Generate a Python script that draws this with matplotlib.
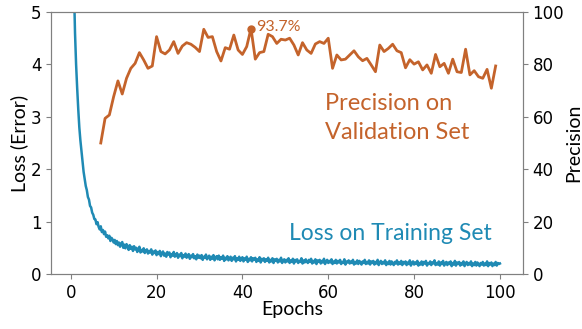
import numpy as np
import matplotlib
matplotlib.use("Agg")
import matplotlib.pyplot as plt

# ---- data ----
loss_epochs = np.arange(0.25, 100.01, 0.25)
loss_values = [
    8.0, 6.5, 5.5, 4.6, 4.0, 3.55, 3.15, 2.8, 2.55, 2.35,
    2.15, 1.95, 1.82, 1.68, 1.6, 1.47, 1.42, 1.3, 1.27, 1.17,
    1.13, 1.05, 1.04, 0.95, 0.99, 0.9, 0.85, 0.91, 0.8, 0.84,
    0.76, 0.81, 0.71, 0.74, 0.68, 0.73, 0.63, 0.69, 0.66, 0.6,
    0.65, 0.57, 0.63, 0.55, 0.6, 0.52, 0.58, 0.61, 0.5, 0.56,
    0.49, 0.57, 0.53, 0.46, 0.55, 0.48, 0.52, 0.44, 0.53, 0.47,
    0.5, 0.42, 0.48, 0.52, 0.41, 0.46, 0.43, 0.49, 0.4, 0.45,
    0.47, 0.39, 0.44, 0.41, 0.47, 0.37, 0.43, 0.4, 0.45, 0.36,
    0.42, 0.38, 0.44, 0.34, 0.4, 0.43, 0.35, 0.39, 0.33, 0.42,
    0.37, 0.41, 0.32, 0.38, 0.35, 0.42, 0.33, 0.36, 0.4, 0.31,
    0.37, 0.34, 0.4, 0.3, 0.36, 0.33, 0.39, 0.31, 0.35, 0.38,
    0.29, 0.35, 0.32, 0.38, 0.3, 0.34, 0.28, 0.37, 0.31, 0.35,
    0.3, 0.36, 0.27, 0.33, 0.31, 0.37, 0.28, 0.32, 0.35, 0.27,
    0.33, 0.29, 0.36, 0.26, 0.31, 0.34, 0.28, 0.35, 0.27, 0.32,
    0.29, 0.35, 0.25, 0.31, 0.28, 0.34, 0.26, 0.3, 0.33, 0.25,
    0.31, 0.28, 0.34, 0.24, 0.3, 0.27, 0.33, 0.25, 0.29, 0.32,
    0.24, 0.3, 0.27, 0.33, 0.23, 0.29, 0.26, 0.32, 0.24, 0.3,
    0.27, 0.31, 0.23, 0.28, 0.25, 0.32, 0.22, 0.29, 0.26, 0.3,
    0.23, 0.28, 0.25, 0.31, 0.22, 0.27, 0.24, 0.3, 0.21, 0.28,
    0.25, 0.29, 0.22, 0.27, 0.24, 0.31, 0.21, 0.26, 0.28, 0.22,
    0.27, 0.24, 0.3, 0.21, 0.26, 0.23, 0.29, 0.2, 0.27, 0.24,
    0.28, 0.21, 0.25, 0.23, 0.3, 0.2, 0.26, 0.22, 0.28, 0.24,
    0.21, 0.27, 0.23, 0.29, 0.2, 0.25, 0.22, 0.28, 0.19, 0.26,
    0.23, 0.27, 0.2, 0.25, 0.22, 0.29, 0.19, 0.24, 0.27, 0.21,
    0.25, 0.22, 0.28, 0.19, 0.24, 0.21, 0.27, 0.2, 0.25, 0.22,
    0.27, 0.19, 0.23, 0.21, 0.28, 0.18, 0.24, 0.22, 0.26, 0.2,
    0.24, 0.21, 0.27, 0.18, 0.23, 0.2, 0.26, 0.19, 0.25, 0.22,
    0.18, 0.24, 0.21, 0.27, 0.19, 0.23, 0.2, 0.26, 0.18, 0.24,
    0.21, 0.25, 0.18, 0.23, 0.2, 0.27, 0.17, 0.22, 0.25, 0.19,
    0.23, 0.2, 0.26, 0.17, 0.22, 0.19, 0.25, 0.18, 0.24, 0.21,
    0.17, 0.23, 0.2, 0.26, 0.18, 0.22, 0.19, 0.25, 0.17, 0.23,
    0.2, 0.24, 0.17, 0.22, 0.19, 0.26, 0.16, 0.21, 0.24, 0.18,
    0.22, 0.19, 0.25, 0.16, 0.21, 0.18, 0.24, 0.17, 0.23, 0.2,
    0.25, 0.16, 0.21, 0.19, 0.24, 0.17, 0.22, 0.2, 0.26, 0.17,
    0.21, 0.18, 0.24, 0.16, 0.22, 0.19, 0.25, 0.16, 0.2, 0.23,
    0.17, 0.22, 0.19, 0.24, 0.15, 0.21, 0.18, 0.25, 0.16, 0.22,
    0.19, 0.23, 0.16, 0.21, 0.18, 0.24, 0.15, 0.2, 0.23, 0.17,
    0.21, 0.18, 0.24, 0.15, 0.2, 0.17, 0.23, 0.16, 0.22, 0.19,
    0.15, 0.21, 0.18, 0.23, 0.16, 0.2, 0.17, 0.24, 0.15, 0.21,
    0.18, 0.22, 0.15, 0.2, 0.17, 0.23, 0.16, 0.21, 0.19, 0.2,
]

prec_epochs = np.arange(7, 100)
prec_values = [
    50.0, 59.4, 60.7, 67.7, 73.7, 68.7, 74.7, 78.5, 80.4, 84.5,
    81.7, 78.5, 79.4, 90.6, 84.9, 84.0, 85.5, 88.7, 84.2, 87.0,
    88.3, 87.7, 86.5, 84.9, 93.4, 90.3, 90.6, 84.9, 81.3, 86.4,
    85.8, 91.2, 85.5, 83.8, 86.8, 93.7, 82.0, 84.5, 84.9, 91.5,
    90.6, 88.0, 89.6, 89.3, 90.0, 87.4, 83.6, 88.3, 85.5, 84.2,
    87.8, 88.7, 88.0, 90.0, 78.5, 83.6, 81.7, 82.0, 83.6, 85.2,
    82.9, 81.4, 82.3, 79.8, 77.2, 87.4, 84.9, 86.1, 87.7, 85.2,
    84.5, 78.7, 81.8, 80.1, 81.0, 77.9, 79.8, 76.6, 83.8, 79.1,
    80.4, 76.6, 82.0, 77.2, 76.9, 85.8, 76.0, 77.6, 75.3, 74.7,
    78.1, 70.9, 79.4,
]

loss_ticks = [0, 1, 2, 3, 4, 5]
prec_ticks = [0, 20, 40, 60, 80, 100]
epoch_ticks = [0, 20, 40, 60, 80, 100]

BLUE = "#1F8AB4"
ORANGE = "#C4632B"
LABEL_FONT = "Lato"

fig = plt.figure(figsize=(5.82, 3.29), dpi=100)
ax = fig.add_axes([0.0876, 0.1672, 0.8105, 0.7963])
ax2 = ax.twinx()

ax.plot(loss_epochs, loss_values, color=BLUE, lw=1.8)
ax2.plot(prec_epochs, prec_values, color=ORANGE, lw=2.0)

imax = int(np.argmax(prec_values))
ax2.plot(prec_epochs[imax], prec_values[imax], "o", color=ORANGE, ms=5)
ax2.text(prec_epochs[imax] + 1.3, prec_values[imax] - 0.8,
         f"{prec_values[imax]:.1f}%", color=ORANGE, fontsize=11.5,
         family=LABEL_FONT, ha="left", va="baseline")

ax.set_xlim(-4.6, 105.3)
ax.set_ylim(0, 5)
ax2.set_ylim(0, 100)
ax.set_xticks(epoch_ticks)
ax.set_yticks(loss_ticks)
ax2.set_yticks(prec_ticks)

for a in (ax, ax2):
    for s in a.spines.values():
        s.set_color("#808080")
    a.tick_params(colors="#808080", labelcolor="black", labelsize=12)

ax.set_xlabel("Epochs", fontsize=14, family=LABEL_FONT)
ax.xaxis.set_label_coords(0.512, -0.105)
ax.set_ylabel("Loss (Error)", fontsize=14, family=LABEL_FONT, labelpad=2)
ax2.set_ylabel("Precision", fontsize=14, family=LABEL_FONT, labelpad=1)

ax.text(50.85, 0.64, "Loss on Training Set", color=BLUE, fontsize=16.5,
        family=LABEL_FONT, ha="left", va="baseline")
ax.text(59.2, 3.136, "Precision on", color=ORANGE, fontsize=17,
        family=LABEL_FONT, ha="left", va="baseline")
ax.text(59.2, 2.575, "Validation Set", color=ORANGE, fontsize=17,
        family=LABEL_FONT, ha="left", va="baseline")

fig.savefig("out.png", dpi=100)
